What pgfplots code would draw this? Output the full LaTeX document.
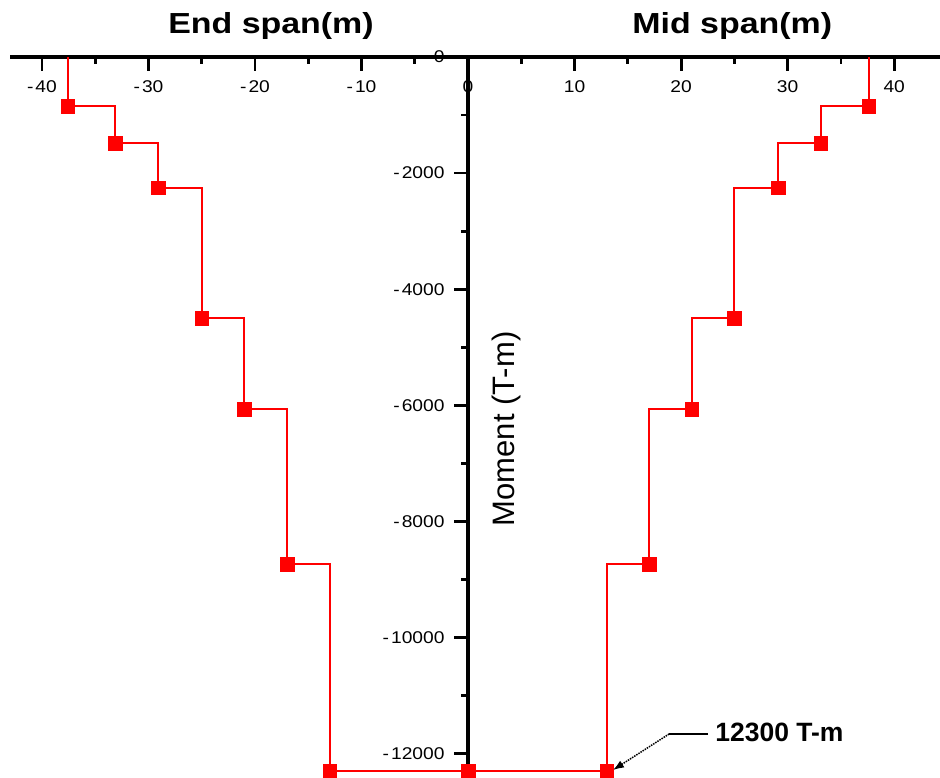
\documentclass[border=0pt]{standalone}
\usepackage{pgfplots}
\pgfplotsset{compat=1.18}
\usepackage{pgfplotstable}
\usepackage{fontspec}
\setmainfont{Liberation Sans}
\newfontfamily\tickfont[FakeStretch=1.13]{Liberation Sans}
\newfontfamily\titlefont[FakeStretch=1.17]{Liberation Sans}
\usetikzlibrary{arrows.meta}

\pgfplotstableread{
x y
-37.6 0
-37.6 -850
-33.1 -1480
-29.1 -2250
-25.0 -4500
-21.0 -6070
-17.0 -8740
-13.0 -12300
0 -12300
}\leftspan

\pgfplotstableread{
x y
37.6 0
37.6 -850
33.1 -1480
29.1 -2250
25.0 -4500
21.0 -6070
17.0 -8740
13.0 -12300
0 -12300
}\midspan

\begin{document}
\begin{tikzpicture}
\begin{axis}[
  scale only axis, width=930pt, height=721pt,
  xmin=-43, xmax=44.3, ymin=-12420, ymax=0,
  axis lines=middle,
  axis line style={-, line width=3.6pt, black},
  every inner x axis line/.append style={-},
  every inner y axis line/.append style={-},
  tick align=outside,
  scaled y ticks=false, scaled x ticks=false,
  xtick={-40,-30,-20,-10,0,10,20,30,40},
  minor xtick={-35,-25,-15,-5,5,15,25,35},
  xticklabels={-\kern2pt40,-\kern2pt30,-\kern2pt20,-\kern2pt10,0,10,20,30,40},
  ytick={-12000,-10000,-8000,-6000,-4000,-2000,0},
  minor ytick={-11000,-9000,-7000,-5000,-3000,-1000},
  yticklabels={-\kern2pt12000,-\kern2pt10000,-\kern2pt8000,-\kern2pt6000,-\kern2pt4000,-\kern2pt2000,0},
  major tick length=14pt, minor tick length=7pt,
  every tick/.style={black, line width=2.8pt},
  hide obscured x ticks=false, hide obscured y ticks=false,
  ticklabel style={font=\tickfont\fontsize{17}{20}\selectfont},
  xticklabel shift=6pt, yticklabel shift=6pt,
  clip=false,
]
\addplot[red, line width=2pt, const plot, no marks] table[x=x,y=y] {\leftspan};
\addplot[red, line width=2pt, const plot, no marks] table[x=x,y=y] {\midspan};
\addplot[only marks, mark=square*, mark size=6.8pt, color=red, skip coords between index={0}{1}] table[x=x,y=y] {\leftspan};
\addplot[only marks, mark=square*, mark size=6.8pt, color=red, skip coords between index={0}{1}] table[x=x,y=y] {\midspan};

\coordinate (SW) at (rel axis cs:0,0);
\node[anchor=base, inner sep=0pt, font=\titlefont\bfseries\fontsize{29}{34}\selectfont] at ([yshift=23.7pt]axis cs:-18.5,0) {End span(m)};
\node[anchor=base, inner sep=0pt, font=\titlefont\bfseries\fontsize{29}{34}\selectfont] at ([yshift=23.7pt]axis cs:24.8,0) {Mid span(m)};
\node[anchor=base, rotate=90, inner sep=0pt, font=\fontsize{31}{36}\selectfont] at (axis cs:4.4,-6408) {Moment (T-m)};
\node[anchor=base west, inner sep=0pt, font=\bfseries\fontsize{26.5}{30}\selectfont] at (axis cs:23.19,-11795) {12300 T-m};
\draw[black, line width=1.4pt] (axis cs:22.54,-11662) -- (axis cs:18.87,-11662);
\draw[black, line width=1.5pt, densely dotted, -{Latex[length=11pt,width=8pt]}] (axis cs:18.87,-11662) -- (axis cs:13.6,-12283);
\end{axis}
\pgfresetboundingbox
\path (SW) ++(-10pt,0) rectangle ++(940pt,778pt);
\end{tikzpicture}
\end{document}
